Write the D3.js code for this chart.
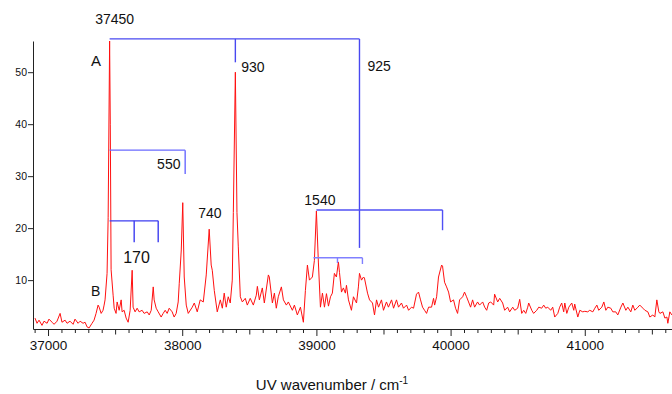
<!DOCTYPE html>
<html>
<head>
<meta charset="utf-8">
<script src="https://cdn.jsdelivr.net/npm/d3@7"></script>
<style>
  body { margin: 0; background: #fff; }
  svg { display: block; font-family: "Liberation Sans", Arial, sans-serif; }
</style>
</head>
<body>
<svg id="chart" width="672" height="394"></svg>
<script>
// spectrum
const wavenumber = [36903,36918,36933,36955,36970,36993,37007,37030,37045,37067,37090,37104,37127,37142,37164,37187,37201,37224,37239,37261,37276,37291,37306,37328,37343,37358,37373,37381,37396,37410,37418,37425,37440,37448,37459,37464,37470,37485,37493,37507,37515,37530,37545,37552,37567,37582,37597,37612,37627,37634,37649,37664,37679,37701,37716,37739,37754,37769,37784,37791,37806,37821,37843,37858,37873,37888,37903,37925,37940,37955,37970,37978,37993,38004,38015,38030,38045,38075,38090,38112,38134,38157,38179,38201,38216,38224,38239,38261,38284,38299,38313,38328,38343,38358,38373,38381,38396,38408,38418,38433,38448,38470,38485,38507,38530,38552,38560,38575,38597,38612,38642,38649,38672,38687,38701,38716,38739,38754,38776,38791,38821,38836,38858,38881,38903,38918,38933,38948,38970,38985,39000,39015,39030,39045,39060,39075,39090,39105,39119,39134,39149,39164,39172,39187,39201,39216,39224,39239,39261,39276,39299,39313,39321,39336,39351,39358,39381,39396,39418,39433,39448,39463,39485,39500,39522,39537,39560,39575,39597,39612,39634,39649,39672,39687,39709,39724,39746,39761,39776,39791,39806,39821,39836,39858,39873,39881,39896,39910,39933,39940,39955,39970,39985,40000,40022,40037,40052,40067,40090,40104,40119,40134,40149,40164,40179,40201,40216,40239,40254,40269,40284,40299,40321,40328,40351,40366,40388,40403,40425,40440,40463,40478,40500,40515,40530,40545,40560,40575,40582,40605,40619,40642,40657,40679,40694,40709,40724,40746,40761,40776,40799,40813,40828,40843,40851,40866,40881,40903,40918,40925,40948,40963,40985,41000,41022,41037,41060,41075,41090,41104,41127,41142,41157,41172,41194,41209,41231,41246,41269,41284,41306,41321,41343,41358,41373,41396,41410,41433,41448,41470,41485,41507,41522,41537,41552,41560,41582,41597,41612,41619,41634,41649];
const intensity = [2.7,1.7,2.3,1.3,2.1,1.7,2.5,1.9,1.5,2.1,3.6,1.9,2.3,1.7,2.1,1.5,2.5,1.7,2.1,1.7,1.9,1.0,0.8,1.7,2.3,3.6,5.2,4.8,3.6,4.2,5.2,6.2,11.3,22,56,40,12,7.1,4.6,3.6,5.8,4.2,6.2,3.9,4.2,2.7,1.9,4.2,11.9,4.8,3.9,4.6,3.9,4.2,3.6,3.9,3.3,4.2,8.7,6.2,4.6,3.9,2.9,3.6,4.2,3.6,4.6,3.9,2.9,3.6,5.8,9.4,15.8,24.9,10.6,5.2,3.6,4.8,5.6,3.9,6.2,5.8,11,19.8,12.9,11.9,8,3.9,6.2,4.6,7.5,4.8,6.8,5.6,10,23,50,23,16.4,6.8,5.8,6.5,5.2,6.5,5.2,7.1,8.8,6.2,8.5,5.6,11,10.6,5.6,7.5,4.6,6.8,8.7,6.2,5.2,5.8,4.2,5.2,3.3,4.8,1.9,8,12.9,10,10.6,13.8,23.3,13.3,4.8,7.5,4.8,7.4,5,6.8,7.5,11.3,10.6,13.5,11.5,7.7,8.5,7.5,9,6.2,4.2,6.8,5.6,8.7,11.3,10,10.6,10.4,7.5,6.2,5.6,3.3,6.2,4.8,6.2,4.2,5.8,4.8,6.2,4.6,6.2,4.8,5.6,4.6,5.2,4.2,4.8,4.6,7.3,7.7,6.2,4.8,4.2,3.6,4.8,4.8,6.5,5.2,6.8,10.6,12.9,12.7,9.6,8.7,7.7,5.8,6.2,4.6,3.6,6.2,6.8,7.7,6.8,5.8,4.8,6.2,4.8,5.8,5.2,5.8,4.8,4.2,5.6,5.8,5.2,7.3,5.8,6.5,5.6,4.2,4.8,3.9,4.8,4.2,4.6,6.3,3.6,4.2,3.6,4.8,5.6,4.2,3.6,4.2,4.8,4.6,5.2,4.6,4.8,4.2,4.8,2.9,3.6,4.8,5.6,3.9,5.6,3.6,4.8,5.6,4.2,5.4,2.9,4.2,3.9,4.0,3.9,4.2,3.9,4.6,5.2,4.2,4.8,5.8,4.2,4.8,4.6,3.9,3.9,3.3,4.8,5.6,4.2,4.8,3.9,5.2,4.2,4.8,5.2,4.6,4.2,3.9,2.9,3.3,2.9,6.2,3.9,3.6,3.9,2.7,2.9,1.7,3.9,3.3];

// progression brackets: [from, to, level, drop ticks as [wavenumber, level]]
const brackets = [
  {x0: 37459, x1: 39321, y: 56.4, ticks: [[38396, 51.9], [39321, 16.2]], color: "#4848f0"},
  {x0: 37459, x1: 38022, y: 35.0, ticks: [[38022, 30.4]], color: "#6a6aff"},
  {x0: 37459, x1: 37821, y: 21.4, ticks: [[37642, 17.3], [37821, 17.3]], color: "#3c3cf0"},
  {x0: 39000, x1: 39940, y: 23.5, ticks: [[39940, 19.6]], color: "#5050f5"},
  {x0: 38978, x1: 39343, y: 14.3, ticks: [[39157, 13.3], [39343, 13.1]], color: "#8080ff"}
];
const labels = [
  {text: "37450", x: 37351, y: 59.3, size: 14},
  {text: "A", x: 37321, y: 51.2, size: 15},
  {text: "930", x: 38440, y: 50.0, size: 14},
  {text: "925", x: 39381, y: 50.2, size: 14},
  {text: "550", x: 37813, y: 31.4, size: 14},
  {text: "740", x: 38119, y: 22.0, size: 14},
  {text: "170", x: 37560, y: 13.3, size: 16},
  {text: "1540", x: 38910, y: 24.45, size: 14},
  {text: "B", x: 37321, y: 6.95, size: 14}
];
const yTicks = [10, 20, 30, 40, 50];

const svg = d3.select("#chart");
const x = d3.scaleLinear().domain([36888, 41650]).range([33, 672]);
const y = d3.scaleLinear().domain([0.6, 56]).range([329, 41]);

// x axis with 100 / 500 / 1000 ticks
const xTickVals = d3.range(36900, 41700, 100);
const xAxis = svg.append("g")
  .attr("transform", "translate(0,329)")
  .call(d3.axisBottom(x).tickValues(xTickVals).tickSizeOuter(0)
    .tickFormat(d => d % 1000 === 0 ? d : ""));
xAxis.selectAll(".tick line")
  .attr("y2", d => d % 1000 === 0 ? 7 : d % 500 === 0 ? 5.5 : 4);
xAxis.selectAll(".tick text").attr("y", 11).attr("font-size", 13.5).attr("fill", "#111");
xAxis.selectAll("path, line").attr("stroke", "#222");

const yAxis = svg.append("g")
  .attr("transform", "translate(33,0)")
  .call(d3.axisLeft(y).tickValues(yTicks).tickSize(5).tickSizeOuter(0));
yAxis.selectAll(".tick text").attr("font-size", 10.5).attr("fill", "#111").attr("x", -6);
yAxis.selectAll("path, line").attr("stroke", "#222");

// spectrum
const line = d3.line()
  .x((d, i) => x(wavenumber[i]))
  .y(d => y(d));
svg.append("path")
  .datum(intensity)
  .attr("fill", "none")
  .attr("stroke", "#ff1010")
  .attr("stroke-width", 1)
  .attr("d", line);

// brackets
const br = svg.append("g").attr("fill", "none");
brackets.forEach(b => {
  br.append("line")
    .attr("x1", x(b.x0)).attr("x2", x(b.x1))
    .attr("y1", y(b.y)).attr("y2", y(b.y))
    .attr("stroke", b.color).attr("stroke-width", 1.4);
  b.ticks.forEach(t => {
    br.append("line")
      .attr("x1", x(t[0])).attr("x2", x(t[0]))
      .attr("y1", y(b.y)).attr("y2", y(t[1]))
      .attr("stroke", b.color).attr("stroke-width", 1.4);
  });
});

svg.append("g").selectAll("text")
  .data(labels)
  .join("text")
  .attr("x", d => x(d.x))
  .attr("y", d => y(d.y))
  .attr("font-size", d => d.size)
  .attr("fill", "#111")
  .text(d => d.text);

const title = svg.append("text")
  .attr("x", 332).attr("y", 390)
  .attr("text-anchor", "middle")
  .attr("font-size", 15)
  .attr("fill", "#111");
title.append("tspan").text("UV wavenumber / cm");
title.append("tspan").attr("dy", -6).attr("font-size", 10).text("-1");
</script>
</body>
</html>
